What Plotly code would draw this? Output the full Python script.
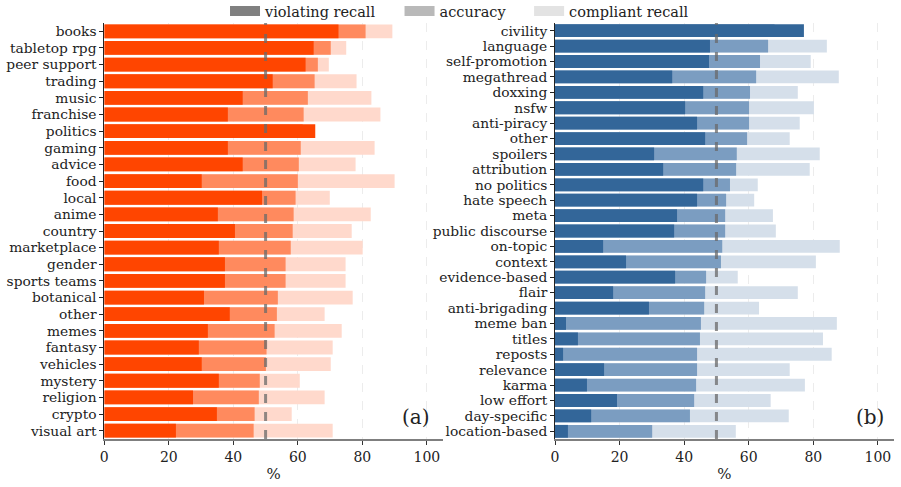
import plotly.graph_objects as go
from plotly.subplots import make_subplots

# ---- data: panel (a) ----
cats_a = ["books", "tabletop rpg", "peer support", "trading", "music", "franchise",
          "politics", "gaming", "advice", "food", "local", "anime", "country",
          "marketplace", "gender", "sports teams", "botanical", "other", "memes",
          "fantasy", "vehicles", "mystery", "religion", "crypto", "visual art"]
viol_a = [72.6, 64.9, 62.4, 52.2, 42.9, 38.3, 65.4, 38.3, 42.9, 30.2, 48.9, 35.2, 40.5,
          35.5, 37.4, 37.4, 30.9, 38.9, 32.1, 29.3, 30.2, 35.5, 27.5, 34.9, 22.2]
acc_a = [81.0, 70.2, 66.2, 65.2, 63.1, 61.8, 61.5, 60.9, 60.3, 60.0, 59.3, 58.7, 58.4,
         57.8, 56.2, 56.2, 53.8, 53.5, 52.8, 50.3, 50.1, 48.2, 47.9, 46.6, 46.3]
comp_a = [89.3, 75.0, 69.6, 78.2, 82.8, 85.6, 57.5, 83.8, 77.9, 90.0, 69.9, 82.6, 76.7,
          80.1, 74.8, 74.8, 77.0, 68.3, 73.6, 70.8, 70.2, 60.6, 68.3, 58.1, 70.8]

# ---- data: panel (b) ----
cats_b = ["civility", "language", "self-promotion", "megathread", "doxxing", "nsfw",
          "anti-piracy", "other", "spoilers", "attribution", "no politics", "hate speech",
          "meta", "public discourse", "on-topic", "context", "evidence-based", "flair",
          "anti-brigading", "meme ban", "titles", "reposts", "relevance", "karma",
          "low effort", "day-specific", "location-based"]
viol_b = [77.1, 48.0, 47.7, 36.3, 45.9, 40.3, 44.0, 46.5, 30.7, 33.5, 45.9, 44.0, 37.8,
          36.9, 14.9, 22.0, 37.2, 18.0, 29.1, 3.4, 7.1, 2.5, 15.2, 9.9, 19.2, 11.2, 4.0]
acc_b = [68.0, 66.0, 63.5, 62.3, 60.4, 60.1, 60.1, 59.5, 56.3, 56.1, 54.2, 53.0, 52.7,
         52.7, 51.8, 51.4, 46.8, 46.5, 46.2, 45.2, 44.9, 44.0, 44.0, 43.7, 43.1, 41.8, 30.1]
comp_b = [59.0, 84.2, 79.2, 87.9, 75.2, 80.2, 75.8, 72.7, 82.0, 78.9, 62.8, 61.7, 67.5,
          68.4, 88.2, 80.8, 56.6, 75.2, 63.2, 87.3, 83.0, 85.7, 72.7, 77.4, 66.8, 72.4, 56.0]

series_names = ["violating recall", "accuracy", "compliant recall"]
legend_colors = ["#808080", "#b9b9b9", "#e3e3e3"]
colors_a = ["#FF4500", "#FF8A5E", "#FFD9CC"]
colors_b = ["#336699", "#7B9DC1", "#D5DFEA"]
threshold = 50

FONT = "DejaVu Serif"
PAD = "\u00a0" * 4

fig = make_subplots(rows=1, cols=2)

def add_panel(col, cats, viol, acc, comp, colors):
    # draw back to front: compliant, accuracy, violating
    for vals, c in [(comp, colors[2]), (acc, colors[1]), (viol, colors[0])]:
        fig.add_trace(go.Bar(y=cats, x=vals, orientation="h", marker_color=c,
                             marker_line_width=0, showlegend=False,
                             hoverinfo="x+y"), row=1, col=col)

add_panel(1, cats_a, viol_a, acc_a, comp_a, colors_a)
add_panel(2, cats_b, viol_b, acc_b, comp_b, colors_b)

for k, (name, c) in enumerate(zip(series_names, legend_colors)):
    label = name + (PAD if k < 2 else "")
    fig.add_trace(go.Scatter(x=[None], y=[None], mode="lines", name=label,
                             line=dict(color=c, width=10), showlegend=True),
                  row=1, col=1)

ydom = [1 - 439 / 487, 1 - 23 / 487]
fig.update_layout(
    width=901, height=487,
    margin=dict(l=0, r=0, t=0, b=0, autoexpand=False),
    paper_bgcolor="white", plot_bgcolor="white",
    barmode="overlay", bargap=0.17,
    font=dict(family=FONT, size=13.8, color="#222"),
    legend=dict(orientation="h", x=0.51, xanchor="center", y=1.01, yanchor="top",
                font=dict(size=14.5), itemwidth=30, bgcolor="rgba(0,0,0,0)",
                traceorder="normal"),
    xaxis=dict(domain=[104.3 / 901, 443 / 901]),
    xaxis2=dict(domain=[555 / 901, 894 / 901]),
    yaxis=dict(domain=ydom),
    yaxis2=dict(domain=ydom),
)

for i, cats in [(1, cats_a), (2, cats_b)]:
    fig.update_xaxes(range=[0, 105], tickvals=[0, 20, 40, 60, 80, 100],
                     showgrid=True, gridcolor="#ececec", griddash="dash", gridwidth=1,
                     showline=True, linecolor="#7f7f7f", linewidth=2,
                     ticks="outside", ticklen=4, tickcolor="#333",
                     zeroline=False, automargin=False,
                     title=dict(text="%", font=dict(size=15), standoff=5),
                     tickfont=dict(size=14), row=1, col=i)
    fig.update_yaxes(categoryorder="array", categoryarray=cats,
                     tickmode="array", tickvals=cats, ticktext=cats,
                     range=[len(cats) - 0.5, -0.5], automargin=False,
                     showgrid=False, showline=True, linecolor="#222", linewidth=1,
                     ticks="outside", ticklen=4, tickcolor="#222",
                     tickfont=dict(size=13.8), row=1, col=i)

for xr, yr in [("x", "y"), ("x2", "y2")]:
    fig.add_shape(type="line", xref=xr, yref=yr + " domain", x0=threshold, x1=threshold,
                  y0=0, y1=1, line=dict(color="rgba(105,105,105,0.75)", width=3, dash="dash"),
                  layer="above")

fig.add_annotation(text="(a)", xref="x domain", yref="y domain", x=0.968, y=0.02,
                   xanchor="right", yanchor="bottom", showarrow=False,
                   font=dict(size=20, color="#222"))
fig.add_annotation(text="(b)", xref="x2 domain", yref="y2 domain", x=0.976, y=0.02,
                   xanchor="right", yanchor="bottom", showarrow=False,
                   font=dict(size=20, color="#222"))

fig.write_html("out.html")
